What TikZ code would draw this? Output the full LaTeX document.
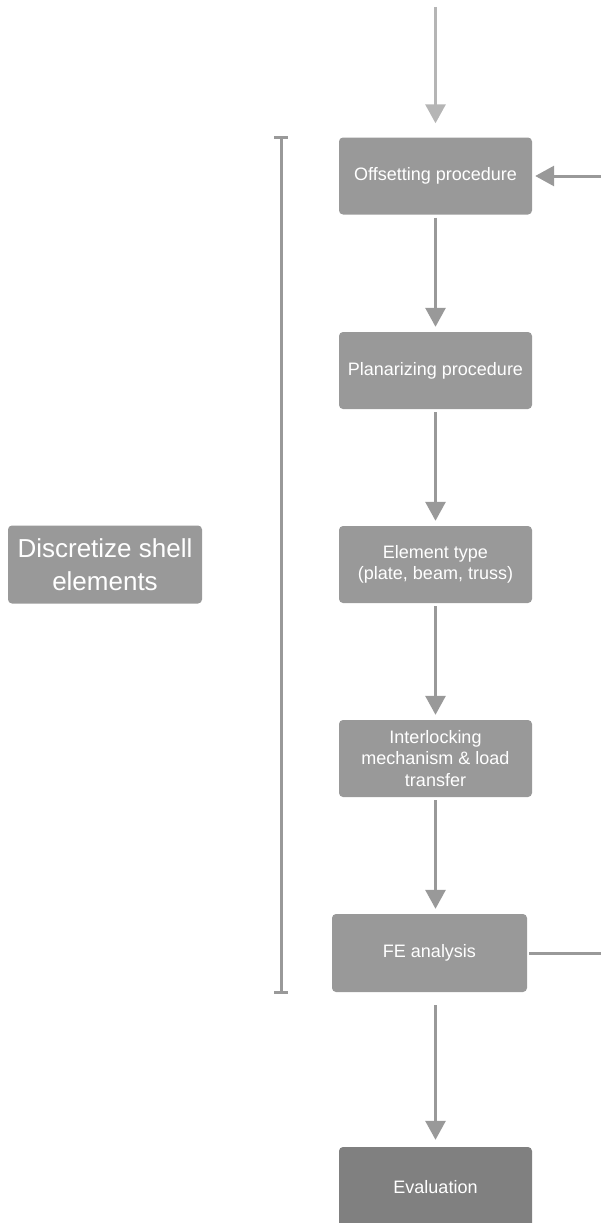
\documentclass[tikz,border=0pt]{standalone}
\usepackage{fontspec}
\setmainfont{Liberation Sans}
\usetikzlibrary{arrows.meta}
\definecolor{boxgray}{HTML}{999999}
\definecolor{evalgray}{HTML}{808080}
\definecolor{linegray}{HTML}{999999}
\definecolor{toparrow}{HTML}{B5B5B5}
\begin{document}
\begin{tikzpicture}[x=1pt,y=-1pt,
  stepbox/.style={fill=boxgray, rounded corners=4pt, text=white, minimum width=193pt, minimum height=77pt, align=center, inner sep=0pt, font=\fontsize{18}{21.5}\selectfont},
  conn/.style={draw=linegray, line width=3pt, -{Triangle[length=19pt,width=20pt]}},
  plain/.style={draw=linegray, line width=3pt}]
\useasboundingbox (0,0) rectangle (601,1223);
\node[stepbox] (off) at (435.5,176) {Offsetting procedure};
\node[stepbox] (plan) at (435.5,370.5) {Planarizing procedure};
\node[stepbox] (elem) at (435.5,564.5) {Element type\\(plate, beam, truss)};
\node[stepbox] (inter) at (435.5,758.5) {Interlocking\\mechanism \& load\\transfer};
\node[stepbox, minimum width=195pt, minimum height=78pt] (fe) at (429.5,953) {FE analysis};
\node[stepbox, fill=evalgray, minimum height=80pt] (eval) at (435.5,1187) {Evaluation};
\node[stepbox, minimum width=194pt, minimum height=78pt, font=\fontsize{26}{33}\selectfont] (disc) at (105,564.5) {Discretize shell\\elements};
\coordinate (topin) at (435.5,7);
\coordinate (rightin) at (601,176);
\coordinate (rightout) at (601,953);
\draw[conn, draw=toparrow] (topin) -- ([yshift=14pt]off.north);
\draw[conn] ([yshift=-3pt]off.south) -- ([yshift=5pt]plan.north);
\draw[conn] ([yshift=-3pt]plan.south) -- ([yshift=5pt]elem.north);
\draw[conn] ([yshift=-3pt]elem.south) -- ([yshift=5pt]inter.north);
\draw[conn] ([yshift=-3pt]inter.south) -- ([yshift=5pt]inter.south |- fe.north);
\draw[conn] ([yshift=-13pt]eval.north |- fe.south) -- ([yshift=7pt]eval.north);
\draw[conn] (rightin) -- ([xshift=3pt]off.east);
\draw[plain] ([xshift=2pt]fe.east) -- (rightout);
\coordinate (bt) at (281,137);
\coordinate (bb) at (281,992);
\draw[plain] (bt) -- (bb);
\draw[plain] ([xshift=-7pt]bt) -- ([xshift=7pt]bt);
\draw[plain] ([xshift=-7pt]bb) -- ([xshift=7pt]bb);
\end{tikzpicture}
\end{document}
